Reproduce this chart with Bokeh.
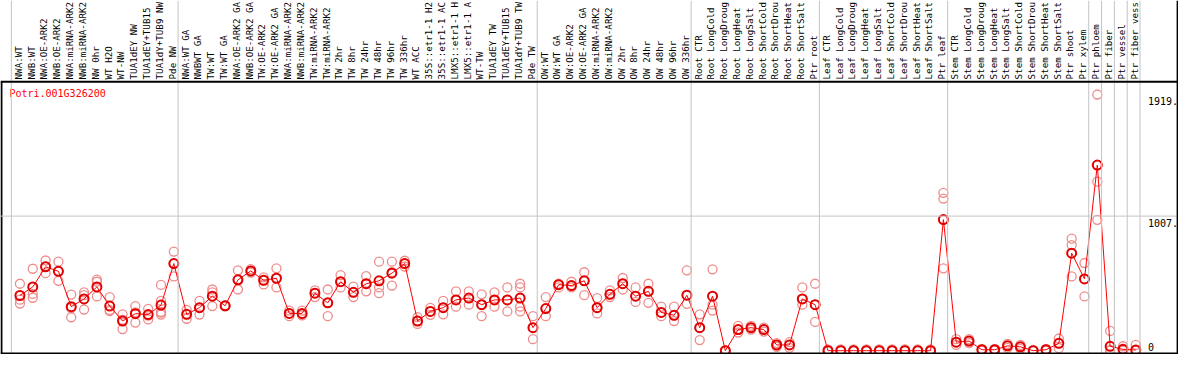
import math
from bokeh.plotting import figure
from bokeh.models import ColumnDataSource, Span, Range1d
from bokeh.core.properties import value
from bokeh.embed import file_html
from bokeh.resources import INLINE

gene = "Potri.001G326200"

# sample labels as they appear in the chart header (cut to 14 characters)
labels = [
    "NWA:WT", "NWB:WT", "NWA:OE-ARK2", "NWB:OE-ARK2", "NWA:miRNA-ARK2", "NWB:miRNA-ARK2",
    "NW 0hr", "WT H2O", "WT-NW", "TUA1dEY NW", "TUA1dEY+TUB15", "TUA1dY+TUB9 NW", "Pde NW",
    "NWA:WT GA", "NWBWT GA", "TW:WT", "TW:WT GA", "NWA:OE-ARK2 GA", "NWB:OE-ARK2 GA",
    "TW:OE-ARK2", "TW:OE-ARK2 GA", "NWA:miRNA-ARK2", "NWB:miRNA-ARK2", "TW:miRNA-ARK2",
    "TW:miRNA-ARK2", "TW 2hr", "TW 8hr", "TW 24hr", "TW 48hr", "TW 96hr", "TW 336hr",
    "WT ACC", "35S::etr1-1 H2", "35S::etr1-1 AC", "LMX5::etr1-1 H", "LMX5::etr1-1 A",
    "WT-TW", "TUA1dEY TW", "TUA1dEY+TUB15", "TUA1dY+TUB9 TW", "Pde TW",
    "OW:WT", "OW:WT GA", "OW:OE-ARK2", "OW:OE-ARK2 GA", "OW:miRNA-ARK2", "OW:miRNA-ARK2",
    "OW 2hr", "OW 8hr", "OW 24hr", "OW 48hr", "OW 96hr", "OW 336hr",
    "Root CTR", "Root LongCold", "Root LongDroug", "Root LongHeat", "Root LongSalt",
    "Root ShortCold", "Root ShortDrou", "Root ShortHeat", "Root ShortSalt", "Ptr root",
    "Leaf CTR", "Leaf LongCold", "Leaf LongDroug", "Leaf LongHeat", "Leaf LongSalt",
    "Leaf ShortCold", "Leaf ShortDrou", "Leaf ShortHeat", "Leaf ShortSalt", "Ptr leaf",
    "Stem CTR", "Stem LongCold", "Stem LongDroug", "Stem LongHeat", "Stem LongSalt",
    "Stem ShortCold", "Stem ShortDrou", "Stem ShortHeat", "Stem ShortSalt", "Ptr shoot",
    "Ptr xylem", "Ptr phloem", "Ptr fiber", "Ptr vessel", "Ptr fiber vess",
]

# number of samples in each block separated by grey vertical lines
group_sizes = [13, 28, 12, 10, 10, 11, 1, 1, 1, 1]

means = [
    413, 477, 628, 594, 329, 387, 477, 334, 222, 277, 270, 341, 652,
    272, 322, 408, 336, 530, 597, 527, 542, 279, 279, 430, 358, 516, 437, 501, 523, 580,
    652, 222, 294, 322, 380, 394, 344, 380, 380, 394, 172,
    315, 494, 487, 523, 322, 422, 501, 408, 444, 286, 265, 415,
    172, 408, 0, 158, 172, 158, 43, 43, 387, 344,
    0, 0, 0, 0, 0, 0, 0, 0, 0, 981,
    64, 72, 7, 7, 36, 29, 0, 7, 55, 730, 537,
    1389, 33, 10, 5,
]

reps = [
    [501, 382, 353], [613, 425, 396], [675, 629, 580], [666, 594, 523], [420, 318, 250],
    [437, 415, 308], [532, 516, 406], [401, 305, 296], [272, 232, 162], [334, 287, 210],
    [313, 263, 234], [492, 372, 290, 285, 270], [742, 652, 556],
    [306, 272, 239], [372, 322, 270], [458, 437, 334], [340, 336, 332], [601, 530, 458],
    [611, 595, 585], [549, 527, 496], [616, 542, 473], [300, 279, 258], [300, 272, 265],
    [451, 430, 401], [458, 358, 258], [566, 516, 473], [480, 437, 401], [558, 501, 444],
    [666, 473, 430], [666, 587, 487], [673, 652, 630], [251, 222, 200], [320, 294, 268],
    [372, 322, 272], [444, 380, 329], [444, 394, 344], [422, 344, 258], [437, 380, 329],
    [473, 380, 294], [501, 473, 394, 329, 294], [258, 172, 86],
    [401, 315, 258], [501, 494, 473], [516, 487, 473], [587, 523, 415], [394, 322, 279],
    [451, 422, 401], [544, 501, 458], [473, 408, 365], [501, 444, 358], [329, 286, 258],
    [329, 265, 222], [601, 415, 351],
    [272, 172, 79], [609, 344, 300], [0, 0, 0], [186, 158, 136], [186, 172, 158],
    [172, 158, 143], [57, 43, 29], [64, 43, 21], [473, 387, 344], [501, 344, 215],
    [10, 0, 0], [10, 0, 0], [10, 0, 0], [10, 0, 0], [10, 0, 0], [10, 0, 0], [10, 0, 0],
    [10, 0, 0], [10, 0, 0], [1181, 1138, 616],
    [86, 64, 43], [86, 72, 57], [14, 7, 0], [14, 7, 0], [50, 36, 21], [43, 29, 14],
    [5, 0, 0], [14, 7, 0], [91, 55, 19], [838, 790, 556], [656, 537, 406],
    [1917, 1265, 979], [148, 5, 0], [33, 5, 0], [43, 5, 0],
]

tick_values = [1919, 1007, 0]
tick_labels = ["1919.", "1007.", "0"]

# ---------------------------------------------------------------
W, H = 1178, 354
MONO = "DejaVu Sans Mono"
n = len(labels)
xs = list(range(n))

x_lo, x_hi = -1.515, 90.33
y_lo, y_hi = -28.6, 2620.6
frame_top = 2012.0
frame_bottom = -21.5
frame_left = -1.44
frame_right = 90.26

p = figure(width=W, height=H, output_backend="svg", toolbar_location=None,
           x_range=Range1d(x_lo, x_hi), y_range=Range1d(y_lo, y_hi),
           min_border=0, min_border_left=0, min_border_right=0,
           min_border_top=0, min_border_bottom=0)
p.xaxis.visible = False
p.yaxis.visible = False
p.xgrid.visible = False
p.ygrid.visible = False
p.outline_line_color = None
p.background_fill_color = "white"
p.border_fill_color = "white"

grey = "#c4c4c4"
# vertical separators between sample blocks
b = 0
bounds = [0]
for g in group_sizes:
    b += g
    bounds.append(b)
for k in bounds:
    p.add_layout(Span(location=k - 0.669, dimension="height", line_color=grey, line_width=1))

# horizontal grid line at middle tick
p.add_layout(Span(location=tick_values[1], dimension="width", line_color=grey, line_width=1))

# frame lines
p.add_layout(Span(location=frame_top, dimension="width", line_color="black", line_width=2))
p.add_layout(Span(location=frame_bottom, dimension="width", line_color="black", line_width=2))
p.add_layout(Span(location=frame_right, dimension="height", line_color="black", line_width=2))
p.segment(x0=[frame_left], y0=[frame_bottom], x1=[frame_left], y1=[frame_top],
          line_color="black", line_width=2)

# category labels (vertical)
lab_src = ColumnDataSource(dict(x=[x - 0.13 for x in xs], y=[2030.0] * n, t=labels))
p.text(x="x", y="y", text="t", source=lab_src, angle=math.pi / 2,
       text_align="left", text_baseline="middle", text_font=value(MONO),
       text_font_size="9.2px", text_color="black")

# replicate points
rx, ry = [], []
for i, vals in enumerate(reps):
    for v in vals:
        rx.append(xs[i])
        ry.append(v)
p.scatter(rx, ry, marker="circle", size=9, fill_color=None,
          line_color="#ee8c8c", line_width=1.3)

# mean line + points
p.line(xs, means, line_color="#ff0000", line_width=1)
p.scatter(xs, means, marker="circle", size=9, fill_color=None,
          line_color="#e00000", line_width=2)

# tick labels on the right
tk_src = ColumnDataSource(dict(
    x=[87.95] * len(tick_values), y=tick_values, t=tick_labels,
    b=["top", "top", "bottom"], o=[3, 3, 0]))
p.text(x="x", y="y", text="t", source=tk_src, text_align="left",
       text_baseline="b", y_offset="o", text_font=value(MONO),
       text_font_size="10px", text_color="black")

# gene name
p.text(x=[-0.82], y=[1926.0], text=[gene], text_align="left", text_baseline="middle",
       text_font=value(MONO), text_font_size="10px", text_color="#ff0000")

open("out.html", "w").write(file_html(p, INLINE))
